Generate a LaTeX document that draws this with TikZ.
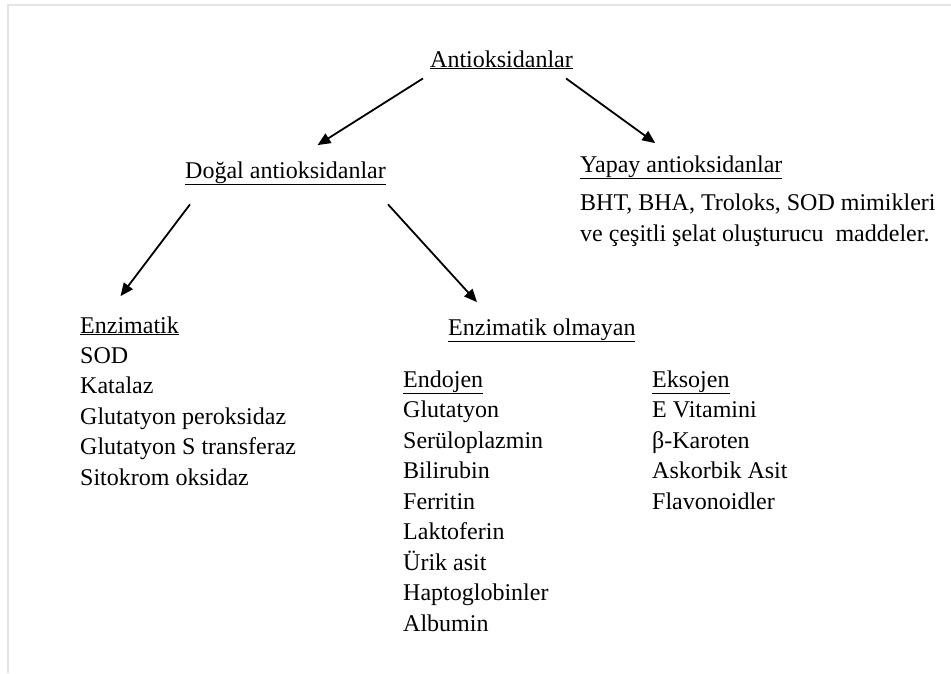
\documentclass[tikz,border=0pt]{standalone}
\usepackage{fontspec}
\setmainfont{Liberation Serif}
\usepackage{tikz}
\usetikzlibrary{arrows.meta}

\tikzset{
  txt/.style={inner sep=0pt, anchor=base west, align=left,
    font=\fontsize{24}{30.5}\selectfont},
  arr/.style={line width=1.8pt, -{Triangle[length=13pt,width=11pt]}}
}

\begin{document}
\begin{tikzpicture}[x=1pt,y=-1pt]
  \useasboundingbox (0,0) rectangle (951,673);
  \draw[line width=1.5pt,black!10] (8,673) -- (8,5) -- (951,5);

  % lists are placed by the baseline of their last line
  \node[txt] (anti) at (430,67) {\underline{Antioksidanlar}};
  \node[txt] (dogal) at (185,178) {\underline{Doğal antioksidanlar}};
  \node[txt] (yapay) at (580,172) {\underline{Yapay antioksidanlar}};
  \node[txt] (yapaylist) at (580,241) {BHT, BHA, Troloks, SOD mimikleri\\
    ve çeşitli şelat oluşturucu\ \ maddeler.};

  \node[txt] (enz) at (80,333) {\underline{Enzimatik}};
  \node[txt] (enzlist) at (80,485) {SOD\\Katalaz\\Glutatyon peroksidaz\\
    Glutatyon S transferaz\\Sitokrom oksidaz};

  \node[txt] (nonenz) at (448,335) {\underline{Enzimatik olmayan}};
  \node[txt] (endo) at (403,387) {\underline{Endojen}};
  \node[txt] (endolist) at (403,631) {Glutatyon\\Serüloplazmin\\Bilirubin\\
    Ferritin\\Laktoferin\\Ürik asit\\Haptoglobinler\\Albumin};
  \node[txt] (ekso) at (652,387) {\underline{Eksojen}};
  \node[txt] (eksolist) at (652,509) {E Vitamini\\β-Karoten\\Askorbik Asit\\
    Flavonoidler};

  \draw[arr] ([xshift=-7pt,yshift=-9pt]anti.south west) -- ([xshift=32pt,yshift=16pt]dogal.north);
  \draw[arr] ([xshift=-7pt,yshift=-9pt]anti.south east) -- ([xshift=-26pt,yshift=12pt]yapay.north);
  \draw[arr] ([xshift=5pt,yshift=-19pt]dogal.south west) -- ([xshift=-9pt,yshift=20pt]enz.north);
  \draw[arr] ([xshift=2pt,yshift=-19pt]dogal.south east) -- ([xshift=29pt,yshift=16pt]nonenz.north west);
\end{tikzpicture}
\end{document}
